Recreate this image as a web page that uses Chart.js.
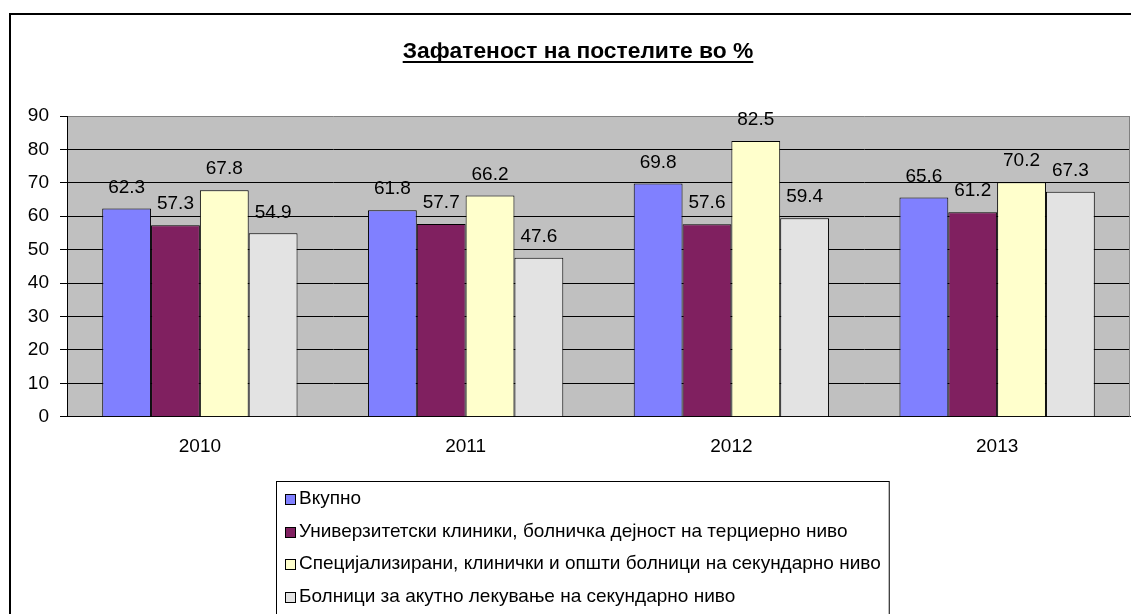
<!DOCTYPE html>
<html>
<head>
<meta charset="utf-8">
<script src="https://cdn.jsdelivr.net/npm/chart.js@4.4.1/dist/chart.umd.min.js"></script>
<style>
  body { margin: 0; background: #fff; }
  canvas { display: block; }
</style>
</head>
<body>
<canvas id="myChart" width="1131" height="614"></canvas>
<script>

const chartTitle = 'Зафатеност на постелите во %';
const years = ['2010', '2011', '2012', '2013'];
const seriesNames = [
    'Вкупно',
    'Универзитетски клиники, болничка дејност на терциерно ниво',
    'Специјализирани, клинички и општи болници на секундарно ниво',
    'Болници за акутно лекување на секундарно ниво'
];
const vkupno = [62.3, 61.8, 69.8, 65.6];
const univerzitetski = [57.3, 57.7, 57.6, 61.2];
const specijalizirani = [67.8, 66.2, 82.5, 70.2];
const akutno = [54.9, 47.6, 59.4, 67.3];
const yMin = 0;
const yMax = 90;
const yStep = 10;

const FONT = '"Liberation Sans", Arial, sans-serif';
Chart.defaults.font.family = FONT;
Chart.defaults.color = '#000';

// gray plot area, outer frame, title, data labels and boxed legend (Excel look)
const excelLook = {
    id: 'excelLook',
    beforeDraw(chart) {
        const { ctx, chartArea: a } = chart;
        ctx.save();
        ctx.fillStyle = '#fff';
        ctx.fillRect(0, 0, chart.width, chart.height);
        ctx.fillStyle = '#C0C0C0';
        ctx.fillRect(a.left, a.top, a.right - a.left, a.bottom - a.top);
        ctx.restore();
    },
    afterDatasetsDraw(chart) {
        const ctx = chart.ctx;
        ctx.save();
        ctx.font = '19px ' + FONT;
        ctx.fillStyle = '#000';
        ctx.textAlign = 'center';
        ctx.textBaseline = 'middle';
        chart.data.datasets.forEach((ds, i) => {
            chart.getDatasetMeta(i).data.forEach((bar, j) => {
                ctx.fillText(ds.data[j].toFixed(1), bar.x, bar.y - 21);
            });
        });
        ctx.restore();
    },
    afterDraw(chart) {
        const { ctx, chartArea: a } = chart;
        ctx.save();

        // right edge of plot area
        ctx.strokeStyle = '#808080';
        ctx.lineWidth = 1;
        ctx.beginPath();
        ctx.moveTo(a.right - 0.5, a.top);
        ctx.lineTo(a.right - 0.5, a.bottom);
        ctx.stroke();

        // outer chart frame (runs off the right and bottom)
        ctx.strokeStyle = '#000';
        ctx.lineWidth = 2;
        ctx.strokeRect(10, 14, 2000, 2000);

        // title, bold + underlined
        ctx.font = 'bold 22.8px ' + FONT;
        ctx.textAlign = 'center';
        ctx.textBaseline = 'alphabetic';
        ctx.fillStyle = '#000';
        const tx = 578;
        ctx.fillText(chartTitle, tx, 58);
        const tw = ctx.measureText(chartTitle).width;
        ctx.fillRect(tx - tw / 2, 61, tw, 2);

        // legend box
        ctx.font = '19px ' + FONT;
        ctx.textAlign = 'left';
        ctx.textBaseline = 'middle';
        const lx = 276, ly = 481, rowH = 32.6;
        let maxW = 0;
        chart.data.datasets.forEach(ds => { maxW = Math.max(maxW, ctx.measureText(ds.label).width); });
        ctx.fillStyle = '#fff';
        ctx.fillRect(lx, ly, 23 + maxW + 8, 200);
        ctx.strokeStyle = '#000';
        ctx.lineWidth = 1;
        ctx.strokeRect(lx + 0.5, ly + 0.5, 23 + maxW + 8, 200);
        chart.data.datasets.forEach((ds, i) => {
            const cy = ly + 18 + i * rowH;
            ctx.fillStyle = ds.backgroundColor;
            ctx.fillRect(lx + 9, Math.round(cy - 5), 10, 10);
            ctx.strokeStyle = '#000';
            ctx.strokeRect(lx + 9.5, Math.round(cy - 5) + 0.5, 10, 10);
            ctx.fillStyle = '#000';
            ctx.fillText(ds.label, lx + 23, cy);
        });
        ctx.restore();
    }
};

const barColors = ['#8080FF', '#802060', '#FFFFCC', '#E3E3E3'];
const seriesData = [vkupno, univerzitetski, specijalizirani, akutno];

const data = {
    labels: years,
    datasets: seriesData.map((values, i) => ({
        label: seriesNames[i],
        data: values,
        backgroundColor: barColors[i],
        borderColor: '#000',
        borderWidth: 1,
        categoryPercentage: 0.735,
        barPercentage: 1
    }))
};

const config = {
    type: 'bar',
    data: data,
    options: {
        responsive: false,
        animation: false,
        layout: {
            padding: { top: 116, left: 10, right: 1, bottom: 136.5 }
        },
        scales: {
            x: {
                grid: { display: false, drawTicks: false },
                border: { display: true, color: '#000', width: 1 },
                ticks: { font: { size: 19 }, color: '#000', padding: 19 }
            },
            y: {
                min: yMin,
                max: yMax,
                afterFit: scale => { scale.width = 57; },
                ticks: { stepSize: yStep, font: { size: 19 }, color: '#000', padding: 11 },
                grid: {
                    color: c => (c.tick && c.tick.value === yMax ? '#808080' : '#000'),
                    tickColor: '#000',
                    tickLength: 7,
                    lineWidth: 1
                },
                border: { display: true, color: '#000', width: 1 }
            }
        },
        plugins: {
            legend: { display: false },
            title: { display: false },
            tooltip: { enabled: false }
        }
    },
    plugins: [excelLook]
};

const myChart = new Chart(
    document.getElementById('myChart'),
    config
);
</script>
</body>
</html>
